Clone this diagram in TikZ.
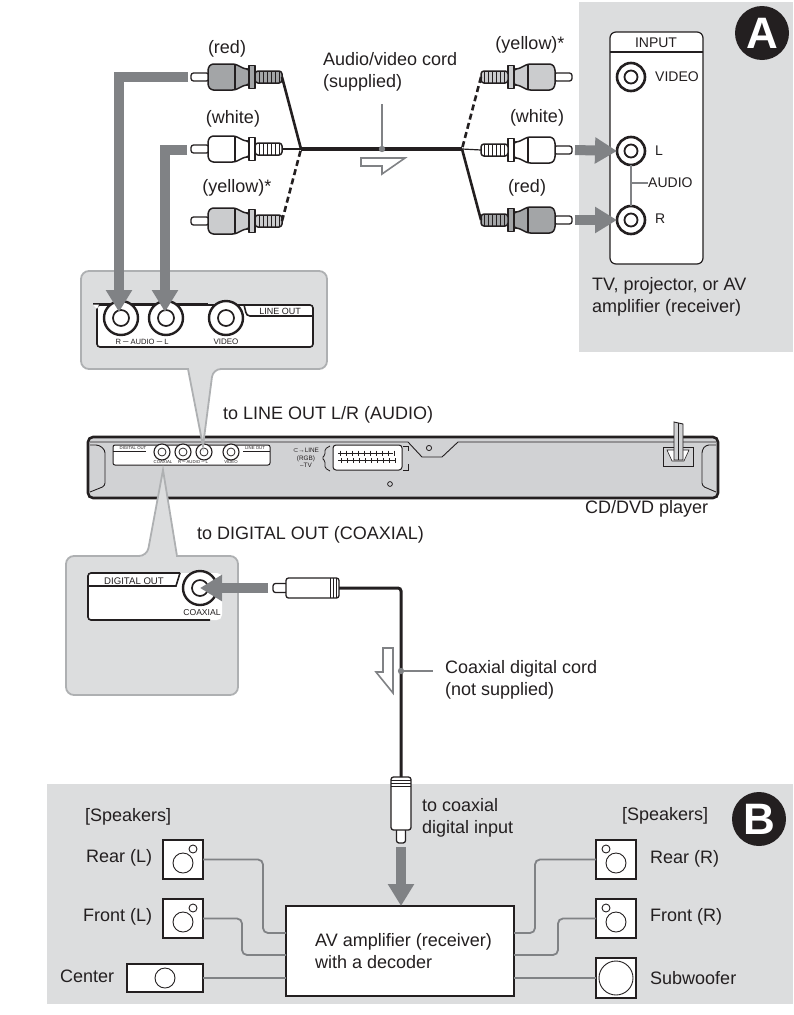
\documentclass[tikz,border=0pt]{standalone}
\usepackage{fontspec}
\setmainfont{Liberation Sans}
\newfontfamily\symfont{DejaVu Sans}
\usetikzlibrary{arrows.meta}
\definecolor{panelgray}{HTML}{DCDDDE}
\definecolor{bubbleedge}{HTML}{AEB0B2}
\definecolor{arrowgray}{HTML}{808285}
\definecolor{playergray}{HTML}{D1D2D4}
\definecolor{ink}{HTML}{231F20}
\definecolor{redplug}{HTML}{A3A5A7}
\definecolor{yellowplug}{HTML}{CBCCCE}
\tikzset{
  x=1pt,y=-1pt,
  panel/.style={fill=panelgray,draw=none},
  bubble/.style={fill=panelgray,draw=bubbleedge,line width=1.8},
  bigarrow/.style={draw=arrowgray,line width=10,line join=miter,-{Triangle[length=22pt,width=25pt]}},
  hollow/.style={draw=arrowgray,fill=white,line width=1.6,line join=miter},
  leader/.style={draw=arrowgray,line width=1.4},
  wire/.style={draw=arrowgray,line width=1.8,rounded corners=5},
  cord/.style={draw=ink,line width=2.6},
  lab/.style={font=\fontsize{18}{21.5}\selectfont,inner sep=0,anchor=west,align=left,text=ink},
  labc/.style={font=\fontsize{18}{21.5}\selectfont,inner sep=0,anchor=center,text=ink},
  mid/.style={font=\fontsize{14}{16}\selectfont,inner sep=0,anchor=west,text=ink},
  tiny/.style={font=\fontsize{9}{10}\selectfont,inner sep=0,anchor=center,text=ink},
  micro/.style={font=\fontsize{4.3}{5}\selectfont,inner sep=0,anchor=center,text=ink},
  spk/.style={draw=ink,fill=white,line width=2,inner sep=0,outer sep=0,rectangle},
  cone/.style={draw=ink,fill=white,line width=.9,circle,inner sep=0,outer sep=0},
  jackouter/.style={draw=ink,fill=white,circle,inner sep=0,outer sep=0},
  jackinner/.style={draw=ink,fill=white,circle,inner sep=0,outer sep=0},
  badge/.style={fill=ink,circle,inner sep=0,outer sep=0,minimum size=54pt,text=white,font=\fontsize{44}{44}\selectfont\bfseries},
  plugline/.style={draw=ink,line width=1.3,line join=round},
}
% name, x, y, outer radius, inner radius, line width
\newcommand\jackat[6]{%
  \node[jackouter,minimum size=#4*2 pt,line width=#6] (#1) at (#2,#3) {};
  \node[jackinner,minimum size=#5*2 pt,line width=#6*.7] (#1i) at (#2,#3) {};
}
% x, y of tip, direction, fill
\newcommand\rcaplug[4]{%
\begin{scope}[shift={(#1,#2)},xscale=#3]
  \draw[plugline,fill=white,rounded corners=2.5] (18,-4) -- (0,-4) -- (0,4) -- (18,4) -- cycle;
  \draw[plugline,fill=#4,line width=1.5,rounded corners=2.5] (17,-9) -- (20,-13) -- (44,-13) -- (54,-8) -- (58,-8) -- (58,8) -- (54,8) -- (44,13) -- (20,13) -- (17,9) -- cycle;
  \draw[plugline] (44,-13) -- (44,13);
  \draw[plugline,fill=#4] (58,-11.5) rectangle (64,11.5);
  \draw[plugline,fill=#4,line width=1.5,rounded corners=3] (64,-6) rectangle (91,6);
  \foreach \k in {68,72,76,80,84,88} \draw[draw=ink,line width=.9] (\k,-5.5) -- (\k,5.5);
\end{scope}}
% coaxial plug: tip at origin, cable end at +66
\newcommand\coaxplug[3]{%
\begin{scope}[shift={(#1,#2)},rotate=#3]
  \draw[plugline,fill=white,rounded corners=2.5] (15,-4.5) -- (0,-4.5) -- (0,4.5) -- (15,4.5) -- cycle;
  \draw[plugline,fill=white,rounded corners=2.5] (13,-10) rectangle (66,10);
  \foreach \k in {57,60,63} \draw[draw=ink,line width=.45] (\k,-10) -- (\k,10);
\end{scope}}
\begin{document}
\begin{tikzpicture}
\useasboundingbox (0,0) rectangle (793,1015);
% grey panels
\fill[panel] (579,2) rectangle (793,352);
\fill[panel] (47,784) rectangle (793,1004);

% ---- panel A
\node[badge] (badgeA) at (762,33) {A};
\draw[draw=ink,fill=white,line width=1.2,rounded corners=6] (610,264) -- (610,32) -- (703,32) -- (703,264) -- cycle;
\draw[draw=ink,line width=1.2] (610,52) -- (703,52);
\node[mid,anchor=center] (tinput) at (656,43) {INPUT};
\jackat{jv}{631}{77}{14}{6.5}{2.6}
\jackat{jl}{631}{151}{14}{6.5}{2.6}
\jackat{jr}{631}{220}{14}{6.5}{2.6}
\node[mid] (tvideo) at (655,77) {VIDEO};
\node[mid] (tl) at (655,151) {L};
\node[mid] (tr) at (655,219) {R};
\node[mid] (taudio) at (648,183) {AUDIO};
\draw[leader] (jl.south) -- (jr.north);
\draw[leader] (631,183) -- (taudio.west);
\node[lab] (ttv) at (592,297) {TV, projector, or AV\\amplifier (receiver)};

% ---- player
\draw[draw=ink,fill=playergray,line width=2.6,rounded corners=5] (88,437) rectangle (718,498);
\draw[draw=ink,line width=.9] (90,442) -- (408,442) -- (422,457) -- (442,457) -- (458,442) -- (716,442);
\draw[draw=ink,line width=.9,rounded corners=3] (90,445) -- (99,445) -- (105,450) -- (105,486) -- (90,492);
\draw[draw=ink,line width=.9,rounded corners=3] (716,445) -- (706,445) -- (702,450) -- (702,486) -- (716,492);
\draw[draw=ink,fill=white,line width=1,rounded corners=2] (113,445) rectangle (270,465);
\node[micro] (pdig) at (133,448) {DIGITAL OUT};
\draw[draw=ink,line width=.7] (113,451) -- (146,451);
\node[micro] (pline) at (255,448) {LINE OUT};
\draw[draw=ink,line width=.7] (243,451) -- (270,451);
\jackat{pa}{162}{452}{8}{4}{1.1}
\jackat{pb}{183}{452}{8}{4}{1.1}
\jackat{pc}{204}{452}{8}{4}{1.1}
\jackat{pd}{231}{452}{8}{4}{1.1}
\node[micro] (pcoax) at (163,462.5) {COAXIAL};
\node[micro] (paudio) at (193,462.5) {R ─ AUDIO ─ L};
\node[micro] (pvid) at (231,462.5) {VIDEO};
\node[font=\fontsize{6.4}{7.6}\selectfont,inner sep=0,align=center,text=ink] (prgb) at (306,458) {{\symfont ⊂}→LINE\\(RGB)\\–TV};
\draw[draw=ink,fill=white,line width=1,rounded corners=3] (333,445) rectangle (402,470);
\draw[draw=ink,line width=.8,rounded corners=1.5] (330,446) -- (325,449) -- (325,455) -- (322,458) -- (325,461) -- (325,468) -- (330,471);
\draw[draw=ink,line width=.8] (403,446) -- (408,446) -- (408,451) (408,464) -- (408,470) -- (403,470);
\foreach \k in {340,346,352,358,364,370,376,382,388,394} {
  \draw[draw=ink,line width=.6] (\k,450.5) -- (\k,455.5) (\k+1,458) -- (\k+1,463);
}
\draw[draw=ink,line width=.6] (338,453) -- (393,453) (338,460.5) -- (396,460.5);
\draw[draw=ink,line width=.8] (429,448) circle (2.6);
\draw[draw=ink,line width=.8] (390,484) circle (2.4);
\draw[draw=ink,fill=playergray,line width=1] (663,447) rectangle (693,466);
\draw[draw=ink,fill=white,line width=.6] (667,450) -- (689,450) -- (684,461) -- (672,461) -- cycle;
\draw[draw=ink,fill=playergray,line width=.9] (674,422) -- (683,424) -- (683,460) -- (674,460) -- cycle;
\draw[draw=ink,line width=.7] (678.5,423) -- (678.5,460);
\node[lab] (tplayer) at (585,509) {CD/DVD player};
\node[lab] (tlineout) at (223,415) {to LINE OUT L/R (AUDIO)};
\node[lab] (tdigout) at (197,535) {to DIGITAL OUT (COAXIAL)};

% ---- bubble 1 (line out)
\draw[bubble,rounded corners=8] (81,271) -- (327,271) -- (327,369) -- (213,369) [sharp corners] -- (203,446) -- (188,369) [rounded corners=8] -- (81,369) -- cycle;
\draw[draw=ink,fill=white,line width=1.6,rounded corners=3] (97,305) -- (313,305) -- (313,347) -- (97,347) -- cycle;
\fill[panelgray] (95,303) rectangle (243,304.4);
\draw[draw=ink,line width=2.2] (93,304) -- (208,304);
\fill[white] (93,304.6) -- (99,304.6) -- (97,309) -- cycle;
\draw[draw=ink,line width=1.6] (244,305) to[out=-70,in=180] (250,316) -- (313,316);
\jackat{la}{121}{318}{17}{8}{2.4}
\jackat{lb}{166}{318}{17}{8}{2.4}
\jackat{lc}{226}{318}{17}{8}{2.4}
\node[tiny] (tlo) at (280,311) {LINE OUT};
\node[tiny,font=\fontsize{7.6}{9}\selectfont] (tra) at (142,342) {R ─ AUDIO ─ L};
\node[tiny,font=\fontsize{8}{9}\selectfont] (tvi) at (226,342) {VIDEO};

% ---- bubble 2 (digital out)
\draw[bubble,rounded corners=8] (66,556) -- (147,556) [sharp corners] -- (163,470) -- (177,556) [rounded corners=8] -- (238,556) -- (238,695) -- (66,695) -- cycle;
\draw[draw=none,fill=white,rounded corners=5] (88,573) rectangle (222,620);
\draw[draw=ink,line width=1.6,rounded corners=3] (210,620) -- (88,620) -- (88,573) -- (180,573);
\draw[draw=ink,line width=1.6] (180,573) -- (176,586) -- (88,586);
\jackat{dj}{200}{588}{17}{8}{2.4}
\node[tiny,font=\fontsize{9.6}{11}\selectfont] (tdo) at (134,581) {DIGITAL OUT};
\node[tiny,font=\fontsize{8.6}{10}\selectfont] (tco) at (202,613) {COAXIAL};

% ---- cords, left side
\rcaplug{191}{77}{1}{redplug}
\rcaplug{191}{149}{1}{white}
\rcaplug{191}{221}{1}{yellowplug}
\rcaplug{572}{77}{-1}{yellowplug}
\rcaplug{572}{150}{-1}{white}
\rcaplug{572}{220}{-1}{redplug}
\coordinate (jleft) at (301,149);
\coordinate (jright) at (462,149);
\coordinate (eLr) at (282,77);
\coordinate (eLw) at (282,149);
\coordinate (eLy) at (282,221);
\coordinate (eRy) at (481,77);
\coordinate (eRw) at (481,150);
\coordinate (eRr) at (481,220);
\coordinate (tapA) at (382,149);
\coordinate (leadA) at (382,104);
\draw[cord,line width=3.2] (jleft) -- (jright);
\draw[cord] (eLr) -- (jleft);
\draw[cord,line width=1.2] (eLw) -- (jleft);
\draw[cord,dashed,dash pattern=on 6pt off 3.5pt] (eLy) -- (jleft);
\draw[cord,dash pattern=on 6pt off 3.5pt] (eRy) -- (jright);
\draw[cord,line width=1.2] (eRw) -- (jright);
\draw[cord] (eRr) -- (jright);
\draw[leader] (leadA) -- (tapA);
\fill[arrowgray] (tapA) circle (3.2);
\draw[hollow] (361,158) -- (405,158) -- (382,174) -- (382,166) -- (361,166) -- cycle;

% ---- big grey arrows
\coordinate (a1s) at (188,77);
\coordinate (a1b) at (119,77);
\coordinate (a1e) at (119,312);
\coordinate (a2s) at (187,150);
\coordinate (a2b) at (165,150);
\coordinate (a2e) at (165,312);
\draw[bigarrow] (a1s) -- (a1b) -- (a1e);
\draw[bigarrow] (a2s) -- (a2b) -- (a2e);
\coordinate (a3s) at (575,150);
\coordinate (a4s) at (575,220);
\draw[bigarrow] (a3s) -- (jl.west);
\draw[bigarrow] (a4s) -- (jr.west);
\coordinate (a5s) at (268,588);
\draw[bigarrow] (a5s) -- (dj.center);

% ---- coaxial cord
\coaxplug{273}{588}{0}
\coaxplug{401}{843}{90}
\coordinate (cxa) at (339,588);
\coordinate (cxb) at (401,777);
\coordinate (cxc) at (401,671);
\draw[cord,line width=3,rounded corners=3] (cxa) -| (cxb);
\coordinate (cxl) at (433,671);
\draw[leader] (cxc) -- (cxl);
\fill[arrowgray] (cxc) circle (3.2);
\draw[hollow] (383,648) -- (393,648) -- (393,693) -- (376,672) -- (383,672) -- cycle;
\node[lab] (tcoax) at (445,680) {Coaxial digital cord\\(not supplied)};

% ---- panel B
\node[badge] (badgeB) at (759,819) {B};
\node[spk,minimum width=40pt,minimum height=39pt] (rearL) at (183,859.5) {};
\node[spk,minimum width=40pt,minimum height=39pt] (frontL) at (183,918.5) {};
\node[spk,minimum width=76pt,minimum height=28pt] (center) at (165,978) {};
\node[spk,minimum width=40pt,minimum height=39pt] (rearR) at (616,859.5) {};
\node[spk,minimum width=40pt,minimum height=39pt] (frontR) at (616,918.5) {};
\node[spk,minimum width=40pt,minimum height=40pt] (sub) at (616,978) {};
\node[cone,minimum size=20pt] (c1) at (183,863) {};
\node[cone,minimum size=8pt] (c1s) at (193,849) {};
\node[cone,minimum size=20pt] (c2) at (183,922) {};
\node[cone,minimum size=8pt] (c2s) at (193,908) {};
\node[cone,minimum size=20pt] (c3) at (165,978) {};
\node[cone,minimum size=20pt] (c4) at (616,863) {};
\node[cone,minimum size=8pt] (c4s) at (606,849) {};
\node[cone,minimum size=20pt] (c5) at (616,922) {};
\node[cone,minimum size=8pt] (c5s) at (606,908) {};
\node[cone,minimum size=34pt] (c6) at (616,978) {};
\node[spk,minimum width=228pt,minimum height=90pt] (amp) at (400,951) {};
\node[lab] (tamp) at (315,951) {AV amplifier (receiver)\\with a decoder};
\draw[wire] (rearL.east) -| (263,933) -- (amp.west |- 0,933);
\draw[wire] (frontL.east) -| (242,955) -- (amp.west |- 0,955);
\draw[wire] (center.east) -- (amp.west |- center.east);
\draw[wire] (rearR.west) -| (535,933) -- (amp.east |- 0,933);
\draw[wire] (frontR.west) -| (558,955) -- (amp.east |- 0,955);
\draw[wire] (sub.west) -- (amp.east |- sub.west);
\coordinate (a6s) at (401,847);
\draw[bigarrow] (a6s) -- (amp.north -| a6s);
\node[lab] (tsl) at (85,817) {[Speakers]};
\node[lab] (tsr) at (622,816) {[Speakers]};
\node[lab] (trl) at (86,858) {Rear (L)};
\node[lab] (tfl) at (83,917) {Front (L)};
\node[lab] (tc) at (60,976) {Center};
\node[lab] (trr) at (650,859) {Rear (R)};
\node[lab] (tfr) at (650,917) {Front (R)};
\node[lab] (tsw) at (650,978) {Subwoofer};
\node[lab] (ttc) at (422,818) {to coaxial\\digital input};

% ---- top labels
\node[labc] (l1) at (227,49) {(red)};
\node[labc] (l2) at (233,119) {(white)};
\node[labc] (l3) at (237,188) {(yellow)*};
\node[labc] (r1) at (530,45) {(yellow)*};
\node[labc] (r2) at (537,118) {(white)};
\node[labc] (r3) at (527,188) {(red)};
\node[lab] (tcord) at (323,72) {Audio/video cord\\(supplied)};
\end{tikzpicture}
\end{document}
